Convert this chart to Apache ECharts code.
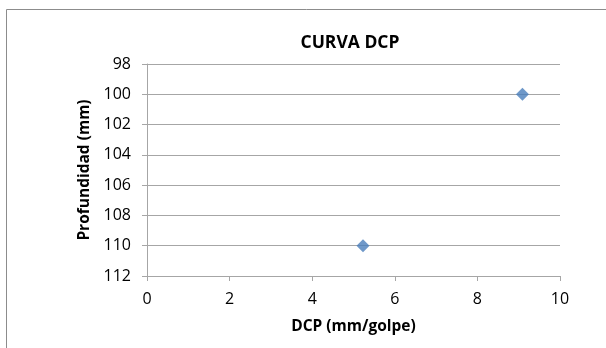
<!DOCTYPE html>
<html>
<head>
<meta charset="utf-8">
<script src="https://cdn.jsdelivr.net/npm/echarts@6/dist/echarts.min.js"></script>
<style>
  html, body { margin: 0; padding: 0; background: #fff; }
  #chart { width: 606px; height: 348px; }
</style>
</head>
<body>
<div id="chart"></div>
<script>
// DCP test: penetration rate vs. depth
const dcpRate = [9.09, 5.23];          // mm/golpe
const depth = [100, 110];              // mm
const xTicks = [0, 2, 4, 6, 8, 10];
const yTicks = [98, 100, 102, 104, 106, 108, 110, 112];

const font = '"Open Sans", "Noto Sans", sans-serif';
const axisGray = '#a6a6a6';

const chart = echarts.init(document.getElementById('chart'));
chart.setOption({
  animation: false,
  backgroundColor: '#fff',
  graphic: [{
    type: 'rect',
    shape: { x: 6.5, y: 9.5, width: 620, height: 360 },
    style: { fill: 'none', stroke: '#8c8c8c', lineWidth: 1 }
  }],
  title: {
    text: 'CURVA DCP',
    left: 345, top: 29, textAlign: 'center',
    textStyle: { fontFamily: font, fontSize: 17.5, fontWeight: 'bold', color: '#000' }
  },
  grid: { left: 147, right: 46, top: 64, bottom: 72 },
  xAxis: {
    type: 'value',
    min: xTicks[0], max: xTicks[xTicks.length - 1], interval: 2,
    name: 'DCP (mm/golpe)', nameLocation: 'middle', nameGap: 43,
    nameTextStyle: { fontFamily: font, fontSize: 15.5, fontWeight: 'bold', color: '#000' },
    axisLine: { show: true, lineStyle: { color: axisGray, width: 1 } },
    axisTick: { show: true, inside: false, length: 5, lineStyle: { color: axisGray } },
    axisLabel: { fontFamily: font, fontSize: 16, color: '#000', margin: 15 },
    splitLine: { show: false }
  },
  yAxis: {
    type: 'value', inverse: true,
    min: yTicks[0], max: yTicks[yTicks.length - 1], interval: 2,
    name: 'Profundidad (mm)', nameLocation: 'middle', nameGap: 50, nameRotate: 90,
    nameTextStyle: { fontFamily: font, fontSize: 15.5, fontWeight: 'bold', color: '#000' },
    axisLine: { show: true, lineStyle: { color: axisGray, width: 1 } },
    axisTick: { show: true, inside: false, length: 5, lineStyle: { color: axisGray } },
    axisLabel: { fontFamily: font, fontSize: 16, color: '#000', margin: 16 },
    splitLine: { show: true, lineStyle: { color: axisGray, width: 1 } }
  },
  series: [{
    type: 'scatter',
    symbol: 'diamond',
    symbolSize: 13,
    itemStyle: { color: '#4a7ebb' },
    data: dcpRate.map((v, i) => [v, depth[i]])
  }]
});
</script>
</body>
</html>
